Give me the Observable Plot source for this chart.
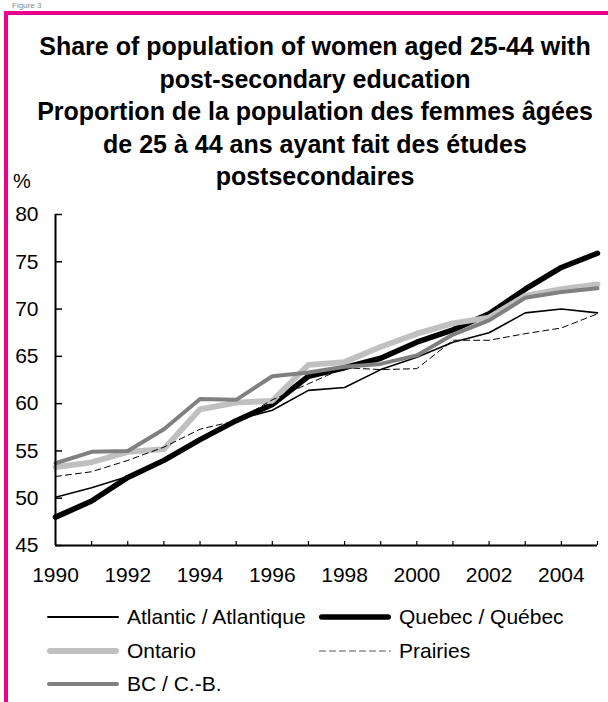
<!DOCTYPE html>
<html><head><meta charset="utf-8">
<script src="https://cdn.jsdelivr.net/npm/d3@7"></script>
<script src="https://cdn.jsdelivr.net/npm/@observablehq/plot@0.6"></script>
<style>
body{margin:0;width:608px;height:702px;position:relative;overflow:hidden;background:#fff;font-family:"Liberation Sans",Arial,sans-serif;color:#000;}
#frame{position:absolute;left:4px;top:11px;right:0;bottom:0;border-left:4px solid #ec008c;border-top:4px solid #ec008c;}
#fig{position:absolute;left:12px;top:1px;font-size:8px;line-height:9px;color:#888;}
#title{position:absolute;left:22px;width:586px;top:30px;text-align:center;font-weight:bold;font-size:25px;line-height:32.5px;}
#unit{position:absolute;left:13px;top:170px;font-size:20px;}
#chart{position:absolute;left:0;top:190px;}
#legend{position:absolute;left:0;top:600px;width:608px;font-size:21px;}
.item{position:absolute;display:flex;align-items:center;height:34px;white-space:nowrap;}
.item svg{margin-right:7px;}
</style></head><body>
<div id="fig">Figure 3</div>
<div id="frame"></div>
<div id="title">Share of population of women aged 25-44 with<br>post-secondary education<br>Proportion de la population des femmes âgées<br>de 25 à 44 ans ayant fait des études<br>postsecondaires</div>
<div id="unit">%</div>
<div id="chart"></div>
<div id="legend"></div>
<script>
const years = [1990,1991,1992,1993,1994,1995,1996,1997,1998,1999,2000,2001,2002,2003,2004,2005];
const atlantic = [50.1,51.1,52.3,54.0,56.3,58.3,59.3,61.4,61.7,63.6,64.9,66.5,67.5,69.6,70.0,69.6];
const quebec   = [48.0,49.7,52.2,54.0,56.2,58.2,59.9,62.9,63.8,64.8,66.5,67.8,69.5,72.1,74.4,75.9];
const ontario  = [53.3,53.8,54.9,55.2,59.4,60.1,60.3,64.1,64.4,66.0,67.4,68.5,69.1,71.4,72.1,72.6];
const prairies = [52.3,52.8,54.0,55.4,57.3,58.2,60.4,62.1,63.8,63.6,63.7,66.7,66.7,67.4,68.0,69.5];
const bc       = [53.7,54.9,55.0,57.3,60.5,60.4,62.9,63.3,63.9,64.2,65.1,67.3,68.8,71.2,71.8,72.2];
const seriesNames = ["Atlantic / Atlantique","Quebec / Québec","Ontario","Prairies","BC / C.-B."];
const seriesValues = [atlantic, quebec, ontario, prairies, bc];
const yTicks = [45,50,55,60,65,70,75,80];
const xLabelYears = [1990,1992,1994,1996,1998,2000,2002,2004];

const colors = ["#000000","#000000","#c0c0c0","#000000","#808080"];
const widths = [1.6,5.5,5.8,1,4];
const dashes = [null,null,null,"6,4",null];
const legendColors = ["#000000","#000000","#c0c0c0","#555555","#808080"];

const data = [];
seriesNames.forEach((name,i)=>seriesValues[i].forEach((v,j)=>data.push({series:name, year:years[j], value:v})));

const chart = Plot.plot({
  width:608, height:400, marginTop:24, marginBottom:45, marginLeft:55, marginRight:11,
  style:{fontFamily:'"Liberation Sans",Arial,sans-serif', fontSize:"21px", color:"#000", background:"transparent", overflow:"visible"},
  x:{domain:[1990,2005]},
  y:{domain:[45,80]},
  marks:[
    Plot.axisY({ticks:yTicks, tickSize:-7, tickPadding:24, tickFormat:d=>String(d), label:null, strokeWidth:1.5}),
    Plot.axisX({ticks:years, tickSize:-4, tickFormat:()=>"", label:null, strokeWidth:1.2}),
    Plot.axisX({ticks:xLabelYears, tickSize:0, tickPadding:22, tickFormat:d=>String(d), label:null}),
    ...seriesNames.map((name,i)=>Plot.line(data.filter(d=>d.series===name),
      {x:"year", y:"value", stroke:colors[i], strokeWidth:widths[i], strokeDasharray:dashes[i] || undefined})),
    Plot.ruleX([1990],{strokeWidth:2}),
    Plot.ruleY([45],{strokeWidth:2})
  ]
});
document.getElementById("chart").appendChild(chart);

const legend = document.getElementById("legend");
seriesNames.forEach((name,i)=>{
  const col = i%2, row = Math.floor(i/2);
  const div = document.createElement("div");
  div.className = "item";
  div.style.left = (col ? 318 : 46) + "px";
  div.style.top = (row*33.5) + "px";
  const w = 74;
  const sw = dashes[i] ? 1 : Math.max(widths[i], 2);
  div.innerHTML = `<svg width="${w}" height="12"><line x1="${sw/2+1}" x2="${w-sw/2-1}" y1="6" y2="6" stroke="${legendColors[i]}" stroke-width="${sw}" stroke-linecap="round" ${dashes[i]?`stroke-dasharray="${dashes[i]}"`:""}/></svg><span>${name}</span>`;
  legend.appendChild(div);
});
</script>
</body></html>
